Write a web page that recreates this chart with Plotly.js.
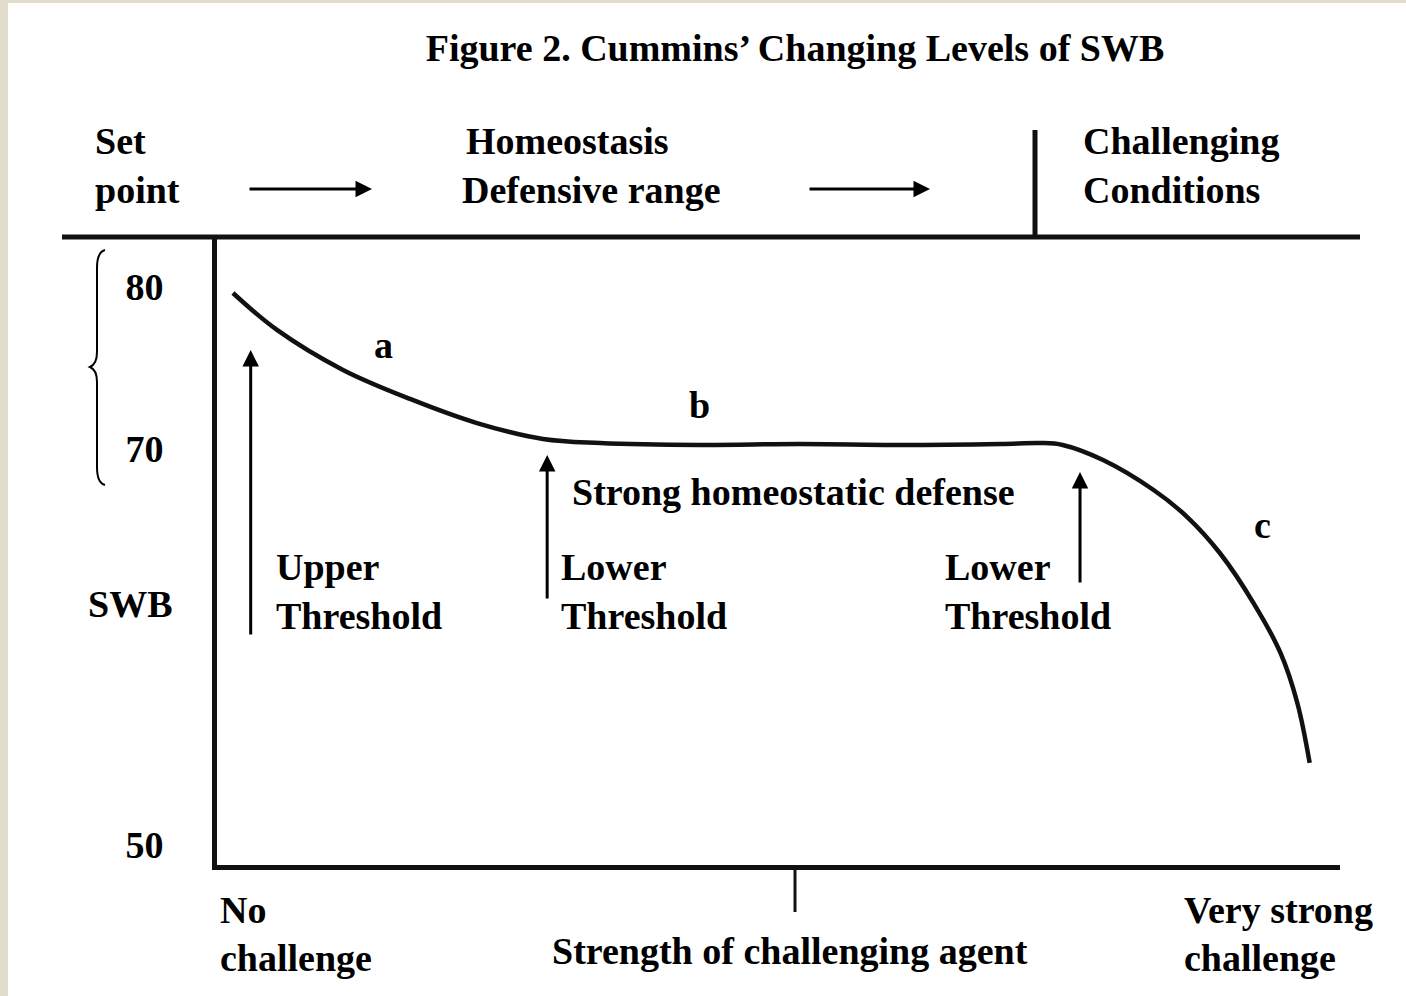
<!DOCTYPE html>
<html>
<head>
<meta charset="utf-8">
<script src="https://cdn.plot.ly/plotly-3.0.1.min.js"></script>
<style>
html,body{margin:0;padding:0;background:#e2dccb;width:1406px;height:996px;overflow:hidden}
#chart{position:absolute;left:8px;top:3px;width:1398px;height:993px;background:#fff}
</style>
</head>
<body>
<div id="chart"></div>
<script>
// ---- data ----
// x: strength of challenging agent (0 = no challenge, 100 = very strong challenge)
const curveX = [1.42, 5.34, 11.22, 17.19, 23.15, 29.03, 34.1, 43.0, 51.9, 60.8, 69.8, 73.3, 75.3, 78.9, 83.4, 86.4, 89.3, 92.3, 94.7, 96.2, 97.3];
// y: SWB level
const curveY = [79.63, 77.35, 74.88, 73.09, 71.60, 70.62, 70.37, 70.25, 70.31, 70.25, 70.31, 70.37, 70.25, 69.32, 67.47, 65.80, 63.58, 60.49, 57.41, 54.32, 50.62];
const yTickVals = [80, 70, 45.56];
const yTickText = ['80', '70', '50'];
// threshold arrows: x position, tail SWB, head SWB
const arrowX = [3.0, 29.4, 76.85];
const arrowFrom = [58.46, 60.68, 61.67];
const arrowTo = [76.11, 69.63, 68.58];
const curveLabels = ['a', 'b', 'c'];
const curveLabelX = [14.8, 43.0, 93.1];
const curveLabelY = [76.42, 72.72, 65.31];

// ---- layout helpers (page pixel -> paper) ----
const PL = 217, PR = 1340, PT = 237, PB = 865;
const xp = px => (px - PL) / (PR - PL);
const yp = py => (PB - py) / (PB - PT);

const FONT = 'Liberation Serif, Times New Roman, serif';
const FS = 38;

function txt(text, px, py, anchor) {
  return {text: text, xref: 'paper', yref: 'paper', x: xp(px), y: yp(py),
    xanchor: anchor || 'left', yanchor: 'middle', showarrow: false,
    font: {family: FONT, size: FS, color: '#000', weight: 700}};
}

const annotations = [
  txt('Set', 93, 141), txt('point', 93, 190),
  txt('Homeostasis', 567, 141, 'center'), txt('Defensive range', 591, 190, 'center'),
  txt('Challenging', 1081, 141), txt('Conditions', 1081, 190),
  txt('SWB', 86, 604),
  txt('Strong homeostatic defense', 570, 492),
  txt('Upper', 274, 567), txt('Threshold', 274, 616),
  txt('Lower', 559, 567), txt('Threshold', 559, 616),
  txt('Lower', 943, 567), txt('Threshold', 943, 616),
  txt('No', 218, 910), txt('challenge', 218, 958),
  txt('Strength of challenging agent', 790, 951, 'center'),
  txt('Very strong', 1182, 910), txt('challenge', 1182, 958)
];
curveLabels.forEach((t, i) => annotations.push({text: t, x: curveLabelX[i], y: curveLabelY[i], xref: 'x', yref: 'y',
  showarrow: false, xanchor: 'center', yanchor: 'middle', font: {family: FONT, size: FS, color: '#000', weight: 700}}));
arrowX.forEach((x, i) => annotations.push({x: x, y: arrowTo[i], ax: x, ay: arrowFrom[i], axref: 'x', ayref: 'y',
  xref: 'x', yref: 'y', text: '', showarrow: true, arrowhead: 2, arrowsize: 1.1, arrowwidth: 3, arrowcolor: '#000'}));
// horizontal arrows in the header
[[248, 372], [808, 930]].forEach(a => annotations.push({xref: 'paper', yref: 'paper', x: xp(a[1]), y: yp(189),
  ax: -(a[1] - a[0]), ay: 0, text: '', showarrow: true, arrowhead: 2, arrowsize: 1.1, arrowwidth: 3, arrowcolor: '#000'}));

// brace path
function P(px, py) { return xp(px).toFixed(5) + ',' + yp(py).toFixed(5); }
const brace = 'M' + P(105, 250) + ' Q' + P(97, 252) + ' ' + P(97, 268) +
  ' L' + P(97, 352) + ' Q' + P(97, 364) + ' ' + P(90, 367) +
  ' Q' + P(97, 370) + ' ' + P(97, 382) +
  ' L' + P(97, 467) + ' Q' + P(97, 483) + ' ' + P(105, 485);

const shapes = [
  {type: 'line', xref: 'paper', yref: 'paper', x0: xp(62), x1: xp(1360), y0: yp(237), y1: yp(237), line: {color: '#111', width: 5}},
  {type: 'line', xref: 'paper', yref: 'paper', x0: xp(1035), x1: xp(1035), y0: yp(237), y1: yp(130), line: {color: '#111', width: 5}},
  {type: 'line', xref: 'paper', yref: 'paper', x0: xp(795), x1: xp(795), y0: 0, y1: yp(912), line: {color: '#111', width: 3}},
  {type: 'path', xref: 'paper', yref: 'paper', path: brace, line: {color: '#000', width: 2}}
];

const trace = {x: curveX, y: curveY, mode: 'lines', type: 'scatter',
  line: {color: '#111', width: 4.5, shape: 'spline', smoothing: 1}, hoverinfo: 'skip'};

const layout = {
  width: 1398, height: 993,
  margin: {l: PL - 8, r: 1398 - (PR - 8), t: PT - 3, b: 993 - (PB - 3), pad: 0},
  paper_bgcolor: '#fff', plot_bgcolor: '#fff',
  showlegend: false,
  font: {family: FONT, size: FS, color: '#000', weight: 700},
  title: {text: 'Figure 2. Cummins\u2019 Changing Levels of SWB', x: (795 - 8) / 1398, xanchor: 'center',
    y: 1 - 45 / 993, yanchor: 'middle', font: {family: FONT, size: FS, color: '#000', weight: 700}},
  xaxis: {range: [0, 100], showgrid: false, zeroline: false, showticklabels: false, ticks: '',
    showline: true, linecolor: '#111', linewidth: 5, fixedrange: true},
  yaxis: {range: [80 - (PB - 287) / 16.2, 80 + (287 - PT) / 16.2], showgrid: false, zeroline: false,
    tickmode: 'array', tickvals: yTickVals, ticktext: yTickText, ticks: 'outside', ticklen: 41,
    tickcolor: 'rgba(0,0,0,0)', tickfont: {family: FONT, size: FS, color: '#000', weight: 700},
    showline: true, linecolor: '#111', linewidth: 5, fixedrange: true},
  annotations: annotations,
  shapes: shapes
};

Plotly.newPlot('chart', [trace], layout, {displayModeBar: false, staticPlot: true});
</script>
</body>
</html>
